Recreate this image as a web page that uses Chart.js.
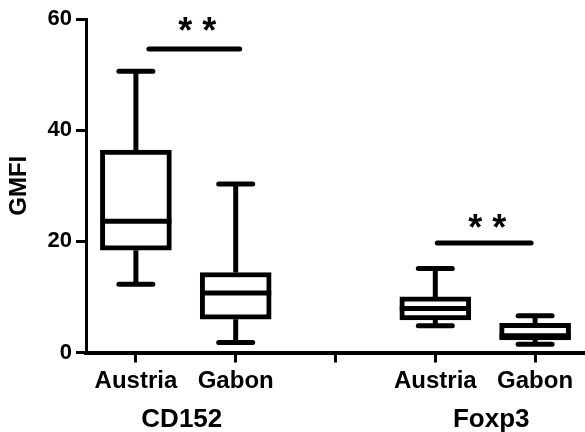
<!DOCTYPE html>
<html>
<head>
<meta charset="utf-8">
<script src="https://cdn.jsdelivr.net/npm/chart.js@4.4.0/dist/chart.umd.min.js"></script>
<style>
  html, body { margin: 0; padding: 0; background: #fff; }
  #wrap { width: 585px; height: 432px; }
</style>
</head>
<body>
<div id="wrap"><canvas id="gmfiChart"></canvas></div>
<script>
// ============================================
// Data
// ============================================
const categories = ['Austria', 'Gabon', '', 'Austria', 'Gabon'];
const groupNames = ['CD152', 'Foxp3'];
const groupOf = [0, 0, null, 1, 1];

const whiskerMin = [12.3, 1.8, null, 4.8, 1.5];
const q1 = [18.4, 6.0, null, 5.85, 2.25];
const median = [23.6, 10.7, null, 7.9, 3.0];
const q3 = [36.4, 14.4, null, 10.0, 5.25];
const whiskerMax = [50.6, 30.3, null, 15.1, 6.6];

const yTicks = [0, 20, 40, 60];

// significance bars: category span, bar level, label level
const sigFrom = [0.13, 3.02];
const sigTo = [1.04, 3.96];
const sigLevel = [54.6, 19.7];
const sigLabelLevel = [58.6, 23.1];
const sigText = ['* *', '* *'];

const FONT = "'Liberation Sans', Arial, Helvetica, sans-serif";
const BOX_W = 71;
const CAP_W = 34;
const LINE_W = 5;

// ============================================
// Whiskers, medians, brackets, group labels
// ============================================
const boxExtras = {
    id: 'boxExtras',
    beforeDatasetsDraw(chart) {
        const { ctx, scales: { x, y } } = chart;
        ctx.save();
        ctx.strokeStyle = '#000';
        ctx.lineWidth = LINE_W;
        categories.forEach((c, i) => {
            if (whiskerMin[i] == null) return;
            const cx = x.getPixelForValue(i);
            ctx.lineCap = 'butt';
            ctx.beginPath();
            ctx.moveTo(cx, y.getPixelForValue(whiskerMax[i]));
            ctx.lineTo(cx, y.getPixelForValue(q3[i]));
            ctx.moveTo(cx, y.getPixelForValue(q1[i]));
            ctx.lineTo(cx, y.getPixelForValue(whiskerMin[i]));
            ctx.stroke();
            ctx.lineCap = 'round';
            ctx.beginPath();
            [whiskerMax[i], whiskerMin[i]].forEach(v => {
                const py = y.getPixelForValue(v);
                ctx.moveTo(cx - CAP_W / 2, py);
                ctx.lineTo(cx + CAP_W / 2, py);
            });
            ctx.stroke();
        });
        ctx.restore();
    },
    afterDatasetsDraw(chart) {
        const { ctx, scales: { x, y }, chartArea } = chart;
        ctx.save();
        ctx.strokeStyle = '#000';
        ctx.fillStyle = '#000';
        ctx.lineWidth = LINE_W;
        ctx.lineCap = 'butt';

        // medians
        categories.forEach((c, i) => {
            if (median[i] == null) return;
            const cx = x.getPixelForValue(i);
            const py = y.getPixelForValue(median[i]);
            ctx.beginPath();
            ctx.moveTo(cx - BOX_W / 2, py);
            ctx.lineTo(cx + BOX_W / 2, py);
            ctx.stroke();
        });

        // significance brackets
        sigLevel.forEach((lv, k) => {
            const x0 = x.getPixelForValue(sigFrom[k]);
            const x1 = x.getPixelForValue(sigTo[k]);
            const py = y.getPixelForValue(lv);
            ctx.lineCap = 'round';
            ctx.beginPath();
            ctx.moveTo(x0, py);
            ctx.lineTo(x1, py);
            ctx.stroke();
            ctx.font = 'bold 36px ' + FONT;
            ctx.textAlign = 'center';
            ctx.textBaseline = 'middle';
            const ly = y.getPixelForValue(sigLabelLevel[k]);
            ctx.fillText(sigText[k], (x0 + x1) / 2 + 3, ly + 6);
        });

        // group labels under the pairs
        ctx.font = 'bold 26px ' + FONT;
        ctx.textAlign = 'center';
        ctx.textBaseline = 'alphabetic';
        groupNames.forEach((g, k) => {
            const idx = groupOf.map((v, i) => v === k ? i : -1).filter(i => i >= 0);
            const cx = (x.getPixelForValue(idx[0]) + x.getPixelForValue(idx[idx.length - 1])) / 2;
            ctx.fillText(g, cx + (k === 0 ? -4 : 6), chartArea.bottom + 74.5);
        });
        ctx.restore();
    }
};

// ============================================
// Chart
// ============================================
const boxData = categories.map((c, i) => q1[i] == null ? null : [q1[i], q3[i]]);

new Chart(document.getElementById('gmfiChart'), {
    type: 'bar',
    data: {
        labels: categories,
        datasets: [{
            data: boxData,
            backgroundColor: '#fff',
            borderColor: '#000',
            borderWidth: LINE_W,
            borderSkipped: false,
            barThickness: BOX_W
        }]
    },
    options: {
        responsive: true,
        maintainAspectRatio: false,
        animation: false,
        layout: { padding: { top: 19, left: 0, right: 0, bottom: 0 } },
        plugins: {
            legend: { display: false },
            tooltip: { enabled: false }
        },
        scales: {
            x: {
                offset: true,
                grid: {
                    offset: false,
                    drawOnChartArea: false,
                    drawTicks: true,
                    tickLength: 10,
                    tickWidth: 3,
                    tickColor: '#000'
                },
                border: { display: true, color: '#000', width: 4 },
                ticks: {
                    color: '#000',
                    font: { family: FONT, size: 24, weight: 'bold' },
                    padding: 4,
                    maxRotation: 0,
                    autoSkip: false
                },
                afterFit(scale) { scale.height = 79.5; }
            },
            y: {
                min: 0,
                max: 60,
                afterBuildTicks(scale) { scale.ticks = yTicks.map(v => ({ value: v })); },
                grid: {
                    drawOnChartArea: false,
                    drawTicks: true,
                    tickLength: 10,
                    tickWidth: 3,
                    tickColor: '#000'
                },
                border: { display: true, color: '#000', width: 3 },
                ticks: {
                    color: '#000',
                    font: { family: FONT, size: 22, weight: 'bold' },
                    padding: 4
                },
                title: {
                    display: true,
                    text: 'GMFI',
                    color: '#000',
                    font: { family: FONT, size: 24, weight: 'bold' },
                    padding: { top: 5, bottom: 0 }
                },
                afterFit(scale) { scale.width = 86; }
            }
        }
    },
    plugins: [boxExtras]
});
</script>
</body>
</html>
